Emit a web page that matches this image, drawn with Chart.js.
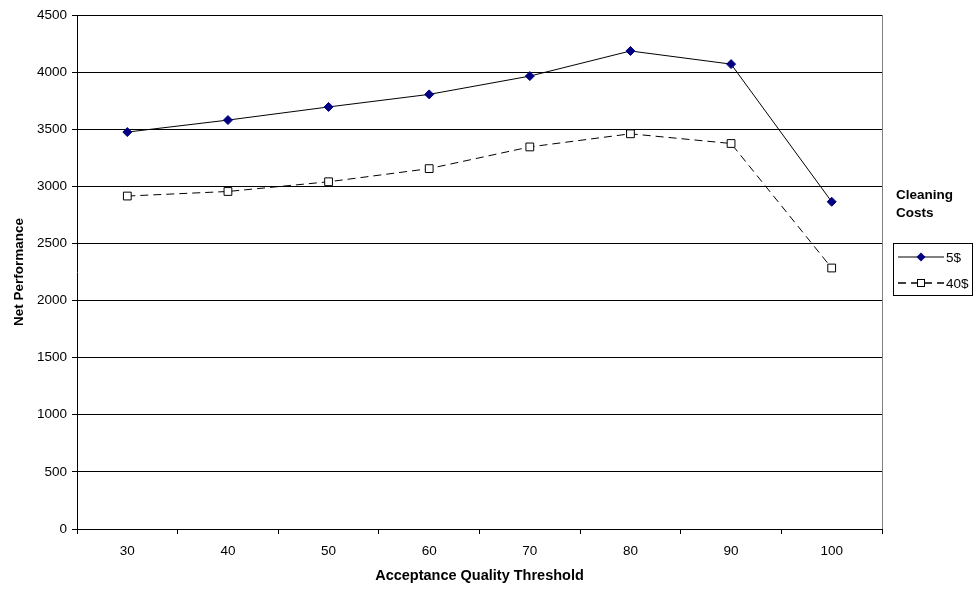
<!DOCTYPE html>
<html>
<head>
<meta charset="utf-8">
<script src="https://cdn.jsdelivr.net/npm/chart.js@4.4.1/dist/chart.umd.min.js"></script>
<style>
  body { margin: 0; background: #fff; }
  #wrap { position: relative; width: 975px; height: 590px; }
  #legendTitle { position: absolute; left: 896px; top: 186px; font: bold 13.5px "Liberation Sans", Arial, sans-serif; line-height: 18px; color: #000; }
  #legendBox { position: absolute; left: 893px; top: 243px; width: 80px; height: 53px; border: 1px solid #000; box-sizing: border-box; font: 13.5px "Liberation Sans", Arial, sans-serif; }
  .row { position: absolute; left: 4px; height: 16px; display: flex; align-items: center; }
  .row span { margin-left: 2px; }
</style>
</head>
<body>
<div id="wrap">
  <canvas id="chart" width="975" height="590"></canvas>
  <div id="legendTitle">Cleaning<br>Costs</div>
  <div id="legendBox">
    <div class="row" style="top:5px">
      <svg width="46" height="14"><line x1="0" y1="7" x2="46" y2="7" stroke="#000" stroke-width="1"/><polygon points="23,2.5 27.5,7 23,11.5 18.5,7" fill="#000080"/></svg><span>5$</span>
    </div>
    <div class="row" style="top:31px">
      <svg width="46" height="14"><line x1="0" y1="7" x2="46" y2="7" stroke="#000" stroke-width="1.3" stroke-dasharray="8,5"/><rect x="19.5" y="3.5" width="7" height="7" fill="#fff" stroke="#000"/></svg><span>40$</span>
    </div>
  </div>
</div>
<script>
// data
const thresholds = ['30', '40', '50', '60', '70', '80', '90', '100'];
const cost5 = [3475, 3580, 3695, 3805, 3965, 4185, 4070, 2865];
const cost40 = [2915, 2955, 3040, 3155, 3345, 3460, 3375, 2285];
const yTicks = [0, 500, 1000, 1500, 2000, 2500, 3000, 3500, 4000, 4500];

const fontFamily = '"Liberation Sans", Arial, sans-serif';

// right edge of the plot area
const plotBorder = {
    id: 'plotBorder',
    afterDraw(chart) {
        const a = chart.chartArea;
        const ctx = chart.ctx;
        ctx.save();
        ctx.strokeStyle = '#808080';
        ctx.lineWidth = 1;
        ctx.beginPath();
        ctx.moveTo(a.right + 0.5, a.top);
        ctx.lineTo(a.right + 0.5, a.bottom);
        ctx.stroke();
        ctx.restore();
    }
};

const ctx = document.getElementById('chart').getContext('2d');
new Chart(ctx, {
    type: 'line',
    data: {
        labels: thresholds,
        datasets: [{
            label: '5$',
            data: cost5,
            borderColor: '#000',
            borderWidth: 1,
            pointStyle: 'rectRot',
            pointRadius: 4.5,
            pointBackgroundColor: '#000080',
            pointBorderColor: '#000080',
            pointBorderWidth: 1,
            tension: 0
        }, {
            label: '40$',
            data: cost40,
            borderColor: '#000',
            borderWidth: 1,
            borderDash: [8, 5],
            pointStyle: 'rect',
            pointRadius: 5.5,
            pointBackgroundColor: '#fff',
            pointBorderColor: '#000',
            pointBorderWidth: 1,
            tension: 0
        }]
    },
    options: {
        responsive: false,
        animation: false,
        layout: { padding: { top: 15, right: 93, bottom: 0, left: 0 } },
        plugins: {
            legend: { display: false },
            tooltip: { enabled: false }
        },
        scales: {
            x: {
                offset: true,
                grid: { offset: true, drawOnChartArea: false, tickLength: 5, color: '#000' },
                border: { color: '#000', width: 1 },
                ticks: { color: '#000', font: { family: fontFamily, size: 13.5 }, padding: 9 },
                title: { display: true, text: 'Acceptance Quality Threshold', color: '#000', font: { family: fontFamily, size: 14.5, weight: 'bold' }, padding: { top: 6, bottom: 5 } },
                afterFit(scale) { scale.height = 61; }
            },
            y: {
                min: 0,
                max: 4500,
                afterBuildTicks(scale) { scale.ticks = yTicks.map(v => ({ value: v })); },
                grid: { color: '#000', tickLength: 5, lineWidth: 1 },
                border: { color: '#000', width: 1 },
                ticks: { color: '#000', font: { family: fontFamily, size: 13.5 }, padding: 5, callback: v => String(v) },
                title: { display: true, text: 'Net Performance', color: '#000', font: { family: fontFamily, size: 13.5, weight: 'bold' }, padding: { top: 11, bottom: 4 } },
                afterFit(scale) { scale.width = 77; }
            }
        }
    },
    plugins: [plotBorder]
});
</script>
</body>
</html>
